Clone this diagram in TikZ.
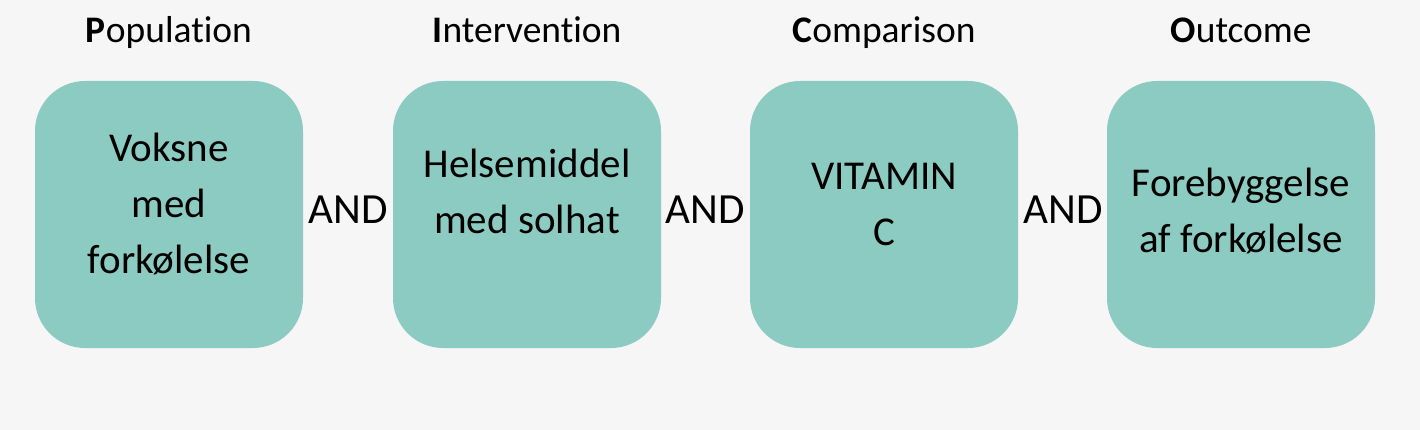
\documentclass[tikz,border=0pt]{standalone}
\usepackage{fontspec}
\setmainfont{Carlito}[Ligatures={NoCommon}]
\usetikzlibrary{positioning}
\definecolor{teal}{HTML}{8CCBC1}
\definecolor{paper}{HTML}{F6F6F6}
\definecolor{ink}{HTML}{000000}
\tikzset{
  picobox/.style = {rounded corners=50pt, fill=teal, draw=none,
                    minimum width=268pt, minimum height=267pt, inner sep=0pt},
  picotext/.style = {text=ink, align=center, font=\fontsize{41}{56}\selectfont},
  head/.style = {text=ink, font=\fontsize{37.5}{42}\selectfont, anchor=base},
  joiner/.style = {text=ink, font=\fontsize{43}{48}\selectfont, anchor=base},
}
\begin{document}
\begin{tikzpicture}[x=1pt,y=-1pt]
\fill[paper] (0,0) rectangle (1420,430);
\useasboundingbox (0,0) rectangle (1420,430);

% the four boxes
\node[picobox] (p) at (169,214.5) {};
\node[picobox] (i) at (527,214.5) {};
\node[picobox] (c) at (884,214.5) {};
\node[picobox] (o) at (1241,214.5) {};

% box texts
\node[picotext] (pt) at ([yshift=10pt]p.center) {Voksne\\med\\forkølelse};
\node[picotext] (it) at ([yshift=23pt]i.center) {Helsemiddel\\med solhat};
\node[picotext] (ct) at ([yshift=10pt]c.center) {VITAMIN\\C};
\node[picotext] (ot) at ([yshift=3pt]o.center) {Forebyggelse\\af forkølelse};

% headings
\node[head] (ph) at (p.center |- 0,43) {\textbf{P}opulation};
\node[head] (ih) at (i.center |- 0,43) {\textbf{I}ntervention};
\node[head] (ch) at (c.center |- 0,43) {\textbf{C}omparison};
\node[head] (oh) at (o.center |- 0,43) {\textbf{O}utcome};

% AND between boxes
\node[joiner] (a1) at (348,224) {AND};
\node[joiner] (a2) at (705,224) {AND};
\node[joiner] (a3) at (1063,224) {AND};
\end{tikzpicture}
\end{document}
